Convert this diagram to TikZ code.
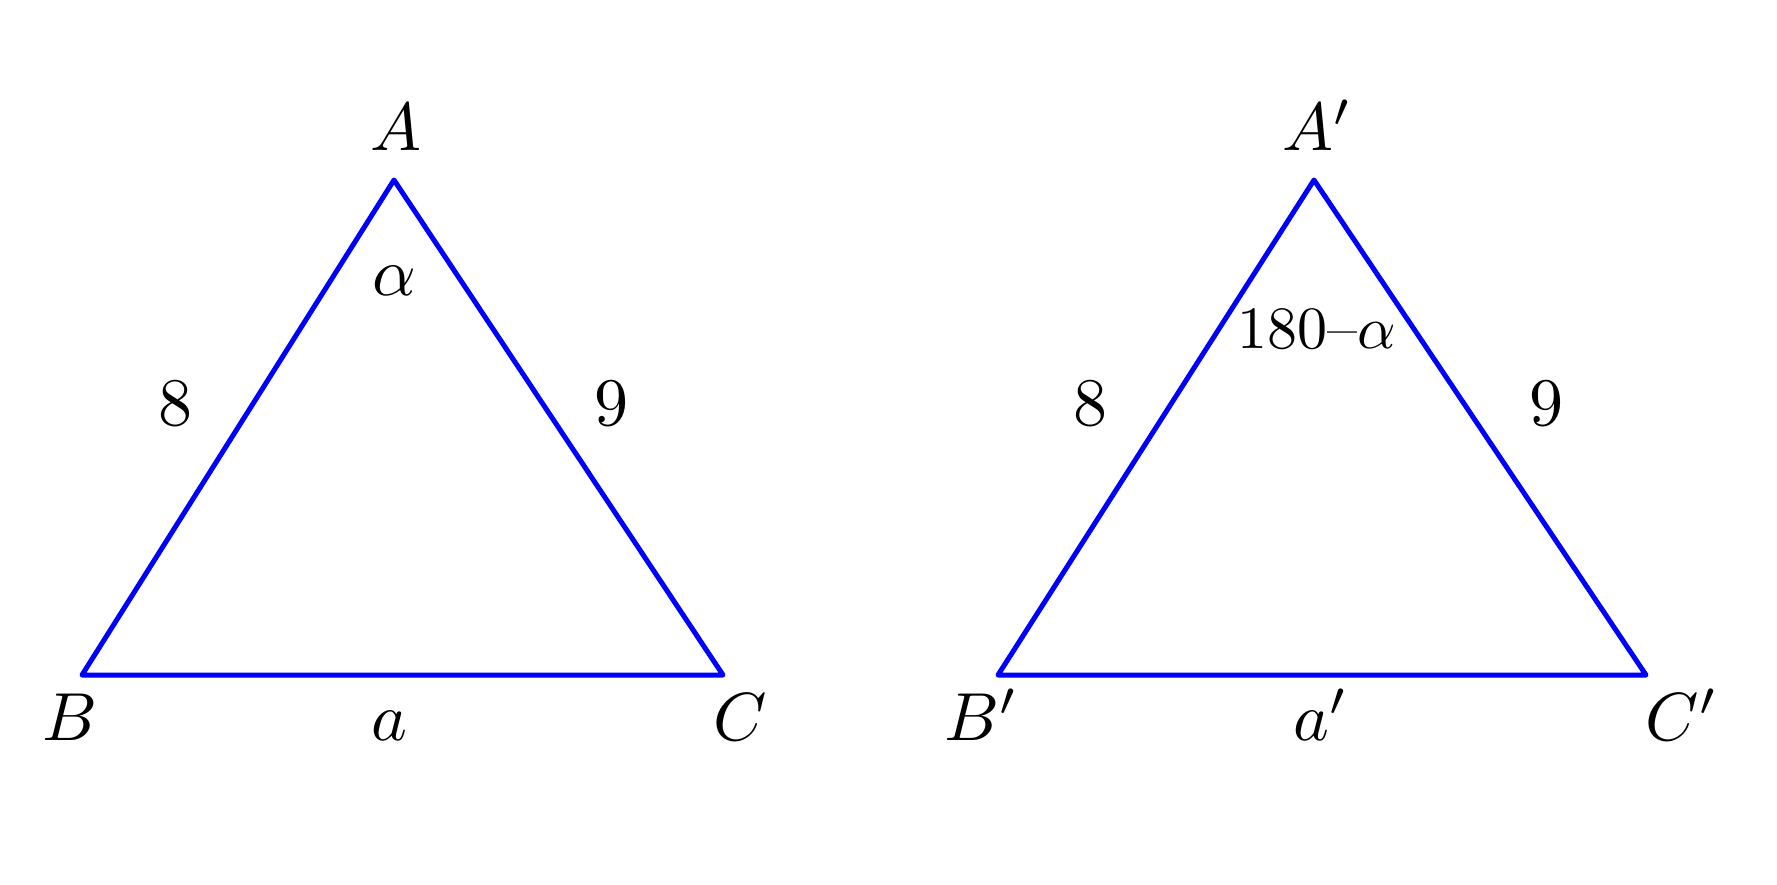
\documentclass[tikz,border=0pt]{standalone}
\usepackage{graphicx}
\newcommand{\biglab}[1]{\scalebox{6.8}{#1}}
\newcommand{\anglab}[1]{\scalebox{6.0}{#1}}
\begin{document}
\begin{tikzpicture}[x=1pt,y=-1pt,
  side/.style={draw=blue,line width=5pt,line join=round},
  lbl/.style={inner sep=0pt,anchor=base}]
\useasboundingbox[fill=white] (0,0) rectangle (1777,885);
% left triangle
\coordinate (A) at (394,180);
\coordinate (B) at (82,675);
\coordinate (C) at (723,675);
\draw[side] (A) -- (B) -- (C) -- cycle;
\node[lbl] (lA) at (396,151) {\biglab{$A$}};
\node[lbl] (lal) at (394,295) {\biglab{$\alpha$}};
\node[lbl] (l8) at (175,425) {\biglab{$8$}};
\node[lbl] (l9) at (611,425) {\biglab{$9$}};
\node[lbl] (lB) at (70,740) {\biglab{$B$}};
\node[lbl] (la) at (389,740) {\biglab{$a$}};
\node[lbl] (lC) at (740,740) {\biglab{$C$}};
% right triangle
\coordinate (A2) at (1314,180);
\coordinate (B2) at (998,675);
\coordinate (C2) at (1646,675);
\draw[side] (A2) -- (B2) -- (C2) -- cycle;
\node[lbl] (lA2) at (1318,151) {\biglab{$A'$}};
\node[lbl] (lal2) at (1317,348) {\anglab{180--$\alpha$}};
\node[lbl] (l82) at (1090,425) {\biglab{$8$}};
\node[lbl] (l92) at (1546,425) {\biglab{$9$}};
\node[lbl] (lB2) at (982,740) {\biglab{$B'$}};
\node[lbl] (la2) at (1321,740) {\biglab{$a'$}};
\node[lbl] (lC2) at (1682,740) {\biglab{$C'$}};
\end{tikzpicture}
\end{document}
